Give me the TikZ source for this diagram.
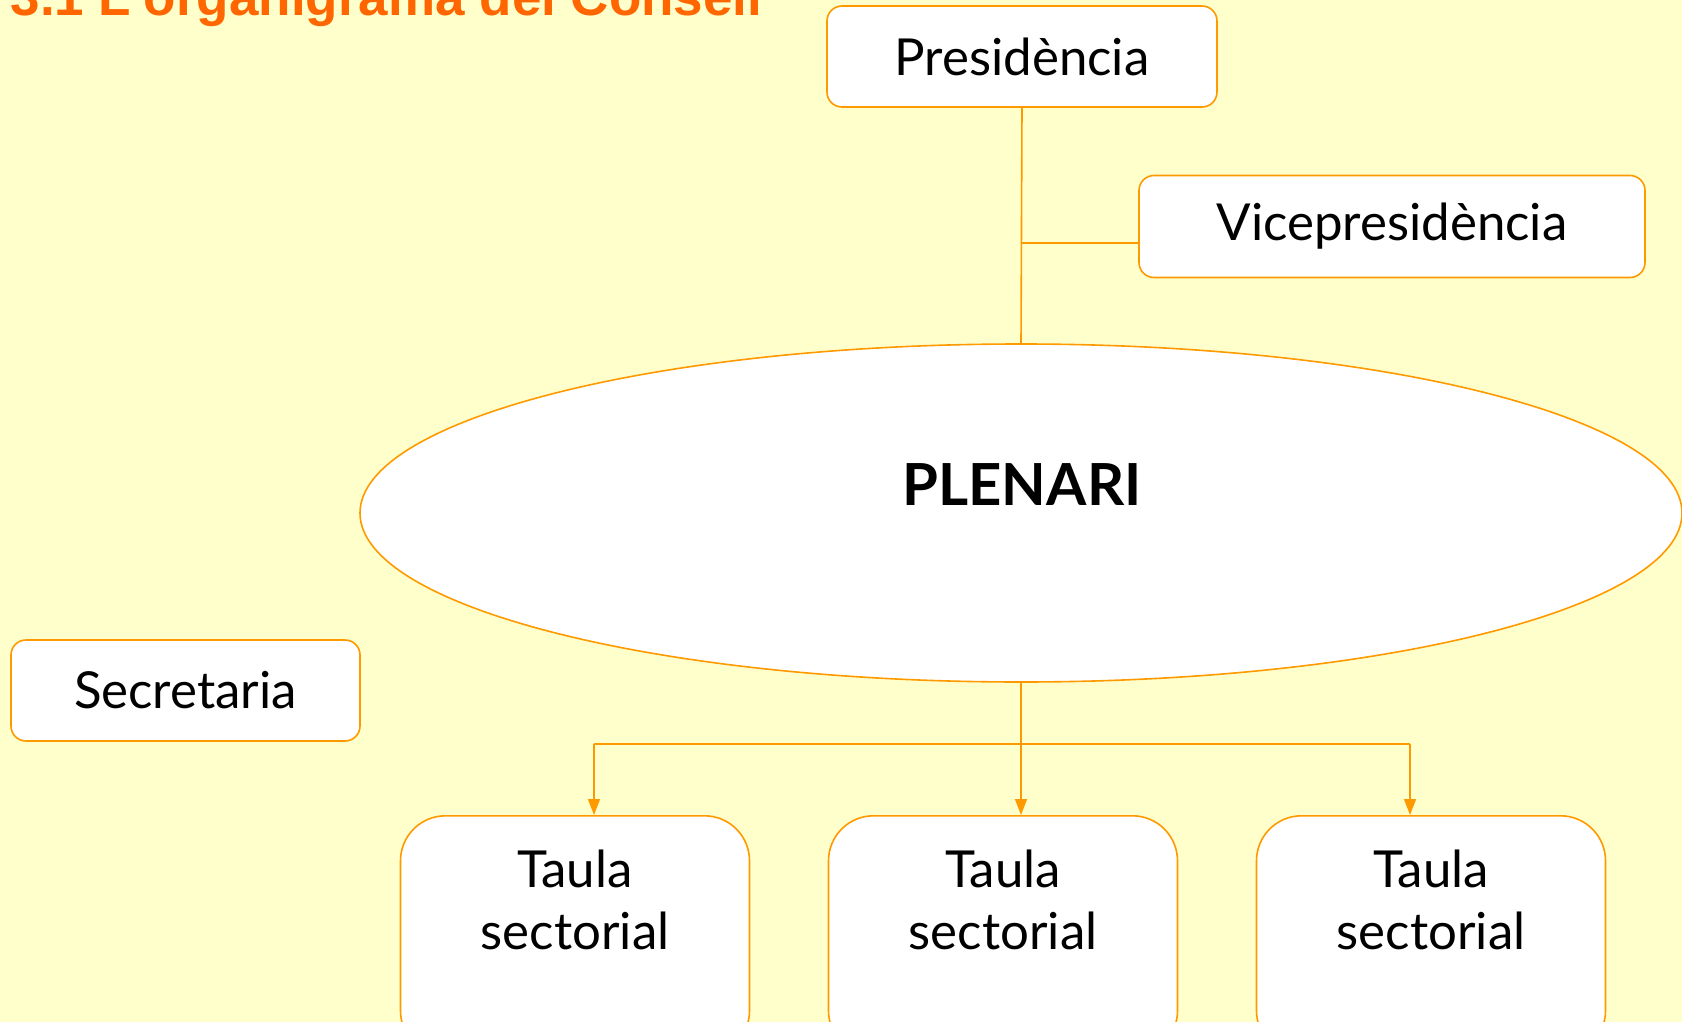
\documentclass[tikz,border=0pt]{standalone}
\usepackage{fontspec}
\setmainfont{Lato}
\newfontfamily\titlefont{Liberation Sans}
\usetikzlibrary{shapes.geometric,arrows.meta}
\definecolor{bgc}{HTML}{FFFFCC}
\definecolor{lnc}{HTML}{FF9900}
\definecolor{ttl}{HTML}{FF6600}
\tikzset{
  box/.style={draw=lnc, line width=1.6pt, fill=white, rounded corners=15pt, inner sep=0pt, font=\fontsize{51}{60}\selectfont},
  tbox/.style={draw=lnc, line width=1.6pt, fill=white, rounded corners=45pt, inner sep=0pt, minimum width=349pt, minimum height=240pt, anchor=north},
  conn/.style={draw=lnc, line width=1.6pt},
  arr/.style={conn, -{Triangle[width=12pt,length=16pt]}},
  ttext/.style={align=center, font=\fontsize{51}{62}\selectfont}
}
\begin{document}
\begin{tikzpicture}[x=1pt,y=-1pt]
\fill[bgc] (0,0) rectangle (1682,1022);
\useasboundingbox (0,0) rectangle (1682,1022);
\node[anchor=base west, text=ttl, font=\titlefont\bfseries\fontsize{53}{60}\selectfont] (title) at (7,16) {3.1 L'organigrama del Consell};
\node[box, minimum width=390pt, minimum height=101pt] (pres) at (1022,56.5) {Presidència};
\node[box, minimum width=506pt, minimum height=102pt] (vice) at (1392,226.5) {Vicepresidència};
\node[draw=lnc, line width=1.6pt, fill=white, ellipse, minimum width=1322pt, minimum height=338pt, inner sep=0pt] (plen) at (1021,513) {};
\node[font=\bfseries\fontsize{58}{64}\selectfont] (plentext) at (1022,485) {PLENARI};
\node[box, minimum width=349pt, minimum height=101pt] (secr) at (185.5,690.5) {Secretaria};
\node[tbox] (t1) at (575,815) {};
\node[tbox] (t2) at (1003,815) {};
\node[tbox] (t3) at (1431,815) {};
\node[ttext] (t1text) at (575,900) {Taula\\sectorial};
\node[ttext] (t2text) at (1003,900) {Taula\\sectorial};
\node[ttext] (t3text) at (1431,900) {Taula\\sectorial};
\coordinate (br) at (1022,243);
\coordinate (b1) at (594,744);
\coordinate (b3) at (1410,744);
\draw[conn] (pres.south) -- (plen.north);
\draw[conn] (br) -- (br -| vice.west);
\draw[arr] (plen.south) -- (t2.north -| plen.south);
\draw[conn] (b1) -- (b3);
\draw[arr] (b1) -- (b1 |- t1.north);
\draw[arr] (b3) -- (b3 |- t3.north);
\end{tikzpicture}
\end{document}
